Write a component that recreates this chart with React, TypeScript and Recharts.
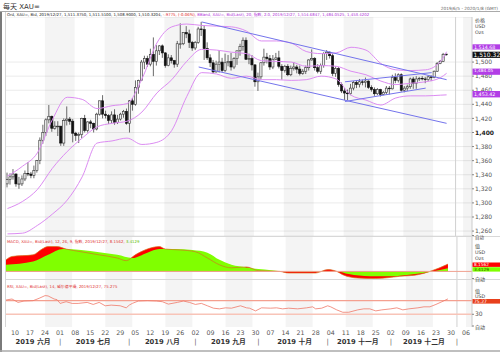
import React from 'react';
import { ComposedChart, Bar, Line, Area, XAxis, YAxis, CartesianGrid, ReferenceArea, ReferenceLine } from 'recharts';

const SANS = "'DejaVu Sans', 'Noto Sans CJK SC', sans-serif";
const CJK = "'Noto Sans CJK SC', 'DejaVu Sans', sans-serif";

// trading days per month (categories)
const junDays = [5, 6, 7, 10, 11, 12, 13, 14, 17, 18, 19, 20, 21, 24, 25, 26, 27, 28];
const julDays = [1, 2, 3, 4, 5, 8, 9, 10, 11, 12, 15, 16, 17, 18, 19, 22, 23, 24, 25, 26, 29, 30, 31];
const augDays = [1, 2, 5, 6, 7, 8, 9, 12, 13, 14, 15, 16, 19, 20, 21, 22, 23, 26, 27, 28, 29, 30];
const sepDays = [2, 3, 4, 5, 6, 9, 10, 11, 12, 13, 16, 17, 18, 19, 20, 23, 24, 25, 26, 27, 30];
const octDays = [1, 2, 3, 4, 7, 8, 9, 10, 11, 14, 15, 16, 17, 18, 21, 22, 23, 24, 25, 28, 29, 30, 31];
const novDays = [1, 4, 5, 6, 7, 8, 11, 12, 13, 14, 15, 18, 19, 20, 21, 22, 25, 26, 27, 28, 29];
const decDays = [2, 3, 4, 5, 6, 9, 10, 11, 12, 13, 16, 17, 18, 19, 20, 23, 24, 25, 26, 27, 30, 31];
const janDays = [1, 2, 3, 6, 7, 8];
const monthBlocks: [string, number[]][] = [
  ['2019-06', junDays], ['2019-07', julDays], ['2019-08', augDays], ['2019-09', sepDays],
  ['2019-10', octDays], ['2019-11', novDays], ['2019-12', decDays], ['2020-01', janDays],
];
const dates: string[] = monthBlocks.flatMap(([m, ds]) => ds.map((d) => `${m}-${String(d).padStart(2, '0')}`));

const opens = [
  1327, 1333, 1337, 1341, 1327, 1327, 1334, 1342, 1341, 1339, 1346, 1360, 1389, 1400, 1418, 1423, 1406, 1409,
  1409, 1385, 1417, 1419, 1416, 1399, 1396, 1397, 1420, 1403, 1415, 1413, 1405, 1426, 1445, 1426, 1424, 1417, 1425, 1414, 1419, 1426, 1430,
  1413, 1445, 1440, 1464, 1474, 1500, 1505, 1497, 1511, 1501, 1516, 1523, 1513, 1495, 1506, 1502, 1497, 1526, 1526, 1542, 1540, 1528,
  1520, 1528, 1547, 1546, 1519, 1506, 1499, 1486, 1497, 1500, 1488, 1499, 1501, 1493, 1505, 1516, 1522, 1531, 1504, 1505, 1496,
  1472, 1479, 1499, 1507, 1505, 1493, 1504, 1506, 1494, 1488, 1494, 1482, 1491, 1493, 1490, 1484, 1487, 1492, 1503, 1505, 1492, 1487, 1495,
  1512, 1514, 1509, 1484, 1491, 1468, 1459, 1456, 1455, 1463, 1471, 1468, 1472, 1471, 1473, 1464, 1461, 1455, 1461, 1454, 1457,
  1463, 1462, 1478, 1474, 1482, 1460, 1463, 1465, 1476, 1470, 1476, 1477, 1476, 1475, 1479, 1478, 1487, 1498, 1501, 1511.375,
];
const highs = [
  1343, 1342, 1348, 1342, 1337, 1339, 1346, 1358, 1344, 1353, 1361, 1393, 1411, 1420, 1439, 1424, 1416, 1416,
  1409, 1420, 1437, 1422, 1419, 1401, 1400, 1421, 1425, 1416, 1418, 1414, 1428, 1445, 1453, 1431, 1426, 1430, 1433, 1425, 1428, 1432, 1434,
  1446, 1449, 1474, 1475, 1503, 1509, 1509, 1519, 1535, 1524, 1524, 1525, 1514, 1511, 1510, 1503, 1530, 1555, 1542, 1551, 1546, 1530,
  1530, 1550, 1557, 1552, 1528, 1511, 1503, 1502, 1517, 1506, 1512, 1510, 1513, 1507, 1516, 1526, 1535, 1535, 1512, 1510, 1497,
  1485, 1500, 1519, 1513, 1510, 1510, 1513, 1516, 1497, 1496, 1497, 1495, 1500, 1496, 1495, 1490, 1495, 1504, 1518, 1507, 1497, 1498, 1514,
  1517, 1515, 1512, 1494, 1493, 1471, 1463, 1461, 1469, 1473, 1474, 1476, 1475, 1478, 1474, 1467, 1464, 1463, 1462, 1459, 1466,
  1466, 1482, 1484, 1484, 1484, 1466, 1468, 1478, 1479, 1480, 1479, 1480, 1479, 1481, 1481, 1488, 1500, 1503, 1513, 1511.51,
];
const lows = [
  1322, 1326, 1333, 1323, 1320, 1324, 1331, 1338, 1335, 1335, 1343, 1355, 1384, 1395, 1413, 1401, 1404, 1395,
  1381, 1381, 1410, 1411, 1386, 1388, 1385, 1392, 1400, 1400, 1406, 1400, 1403, 1424, 1420, 1420, 1412, 1413, 1411, 1412, 1417, 1421, 1411,
  1400, 1431, 1438, 1455, 1473, 1490, 1493, 1494, 1480, 1495, 1510, 1506, 1492, 1494, 1498, 1492, 1493, 1519, 1524, 1534, 1520, 1516,
  1517, 1526, 1537, 1503, 1503, 1493, 1484, 1485, 1485, 1486, 1486, 1494, 1488, 1490, 1496, 1509, 1516, 1503, 1497, 1488, 1465,
  1459, 1475, 1495, 1498, 1489, 1490, 1503, 1491, 1475, 1485, 1480, 1480, 1488, 1484, 1481, 1482, 1483, 1488, 1502, 1488, 1484, 1483, 1492,
  1503, 1505, 1480, 1479, 1465, 1456, 1446, 1446, 1453, 1460, 1463, 1464, 1467, 1464, 1462, 1458, 1452, 1453, 1451, 1453, 1454,
  1454, 1461, 1470, 1471, 1458, 1457, 1459, 1462, 1462, 1462, 1473, 1474, 1470, 1473, 1473, 1477, 1486, 1497, 1500, 1508.9,
];
const closes = [
  1333, 1337, 1341, 1327, 1327, 1334, 1342, 1341, 1339, 1346, 1360, 1389, 1400, 1418, 1423, 1406, 1409, 1409,
  1385, 1417, 1419, 1416, 1399, 1396, 1397, 1420, 1403, 1415, 1413, 1405, 1426, 1445, 1426, 1424, 1417, 1425, 1414, 1419, 1426, 1430, 1413,
  1445, 1440, 1464, 1474, 1500, 1505, 1497, 1511, 1501, 1516, 1523, 1513, 1495, 1506, 1502, 1497, 1526, 1526, 1542, 1540, 1528, 1520,
  1528, 1547, 1546, 1519, 1506, 1499, 1486, 1497, 1500, 1488, 1499, 1501, 1493, 1505, 1516, 1522, 1531, 1504, 1505, 1496, 1472,
  1479, 1499, 1507, 1505, 1493, 1504, 1506, 1494, 1488, 1494, 1482, 1491, 1493, 1490, 1484, 1487, 1492, 1503, 1505, 1492, 1487, 1495, 1512,
  1514, 1509, 1484, 1491, 1468, 1459, 1456, 1455, 1463, 1471, 1468, 1472, 1471, 1473, 1464, 1461, 1455, 1461, 1454, 1457, 1463,
  1462, 1478, 1474, 1482, 1460, 1463, 1465, 1476, 1470, 1476, 1477, 1476, 1475, 1479, 1478, 1487, 1498, 1501, 1511, 1510.3204,
];

// Bollinger bands (read at weekly points)
const bbIdx = [0, 5, 10, 15, 20, 25, 30, 35, 40, 45, 50, 55, 60, 65, 70, 75, 80, 85, 90, 95, 100, 105, 110, 115, 120, 125, 130, 135, 140, 145, 147];
const bbUpper = [1338, 1352, 1371, 1418, 1450, 1447, 1434, 1438, 1441, 1476, 1527, 1550, 1554, 1552, 1551, 1550, 1544, 1530, 1530, 1527, 1515, 1512, 1513, 1521, 1517, 1498, 1489, 1488, 1489, 1501, 1514.68];
const bbMiddle = [1292, 1302, 1319, 1349, 1373, 1392, 1408, 1413, 1416, 1429, 1456, 1475, 1501, 1518, 1517, 1514, 1512, 1502, 1501, 1500, 1494, 1495, 1494, 1487, 1482, 1473, 1468, 1470, 1472, 1478, 1484.05];
const bbLower = [1256, 1257, 1268, 1284, 1304, 1337, 1385, 1388, 1392, 1383, 1386, 1403, 1451, 1485, 1483, 1477, 1480, 1475, 1475, 1474, 1475, 1480, 1476, 1453, 1446, 1439, 1449, 1452, 1452, 1453, 1453.42];

// trend lines
const trendStartIdx = [65, 64, 113, 113];
const trendStartVal = [1557, 1493, 1444, 1472];
const trendEndIdx = [147, 147, 140, 142];
const trendEndVal = [1475, 1413, 1463, 1485];

// MACD (12,26,9)
const macdIdx = [0, 2, 9, 12, 14, 17, 20, 25, 31, 37, 40, 43, 47, 51, 53, 58, 63, 67, 71, 75, 80, 84, 91, 94, 103, 107, 110, 112, 117, 123, 131, 137, 141, 144, 147];
const macdVals = [13, 16.7, 18.5, 25, 27.8, 27.8, 25, 22, 18.5, 15, 12, 18.5, 25, 27.8, 25, 24, 22, 15, 7.4, 4, 5, 0.8, 0, -1.8, -1.8, 2, 0, -3.7, -7.4, -8, -5.5, -3.7, 0, 3.7, 8.16];
const signalIdx = [0, 9, 14, 19, 25, 31, 37, 42, 47, 51, 56, 62, 67, 71, 75, 80, 86, 92, 103, 110, 114, 121, 128, 134, 141, 147];
const signalVals = [7.4, 11, 18.5, 25, 24, 21.5, 18.5, 15, 21, 25, 25, 24, 21, 13, 7.4, 4.5, 2, 0, -0.7, 0, -3, -5.5, -5.5, -3.7, -0.7, 3.41];

// RSI (14)
const rsiIdx = [0, 2, 4, 6, 9, 11, 13, 14, 16, 17, 18, 20, 22, 24, 27, 29, 31, 33, 35, 38, 40, 41, 42, 44, 47, 50, 52, 54, 57, 59, 61, 63, 65, 67, 69, 71, 73, 75, 78, 80, 81, 83, 85, 88, 90, 92, 94, 97, 100, 102, 103, 105, 107, 108, 110, 112, 114, 117, 119, 121, 123, 125, 128, 130, 132, 134, 137, 139, 141, 143, 145, 147];
const rsiVals = [72, 75, 65, 69, 70, 77, 85, 84, 75, 73, 62, 67, 62, 62, 65, 59, 65, 55, 57, 55, 49, 57, 62, 69, 70, 69, 67, 60, 65, 69, 65, 59, 62, 55, 48, 46, 49, 48, 55, 49, 48, 40, 49, 48, 49, 46, 48, 46, 49, 52, 46, 48, 55, 52, 43, 36, 36, 43, 46, 46, 40, 43, 46, 49, 43, 46, 49, 52, 52, 59, 67, 75.3];

const priceTicks = [1260, 1280, 1300, 1320, 1340, 1360, 1380, 1400, 1420, 1440, 1460, 1480, 1500];
const monthLabelIdx = [9, 29, 52, 74, 96, 117, 139];
const monthLabels = ['2019 六月', '2019 七月', '2019 八月', '2019 九月', '2019 十月', '2019 十一月', '2019 十二月'];
const monthSepIdx = [18, 41, 63, 84, 107, 128, 150];
const stripeStarts = [13, 33, 53, 73, 93, 113, 133, 153];
const stripeEnds = [22, 42, 62, 82, 102, 122, 142, 155];

const pick = (idx: number[], vals: number[], i: number) => {
  const j = idx.indexOf(i);
  return j >= 0 ? vals[j] : null;
};

const rows = dates.map((k, i) => {
  const has = i < closes.length;
  return {
    k,
    o: has ? opens[i] : null,
    h: has ? highs[i] : null,
    l: has ? lows[i] : null,
    c: has ? closes[i] : null,
    range: has ? [lows[i], highs[i]] : null,
    bbU: pick(bbIdx, bbUpper, i),
    bbM: pick(bbIdx, bbMiddle, i),
    bbL: pick(bbIdx, bbLower, i),
    macd: pick(macdIdx, macdVals, i),
    signal: pick(signalIdx, signalVals, i),
    rsi: pick(rsiIdx, rsiVals, i),
  };
});

const mondayKeys = dates.filter((d) => new Date(d + 'T12:00:00Z').getUTCDay() === 1);
const monthLabelKeys = monthLabelIdx.map((i) => dates[i]);
const monthSepKeys = monthSepIdx.map((i) => dates[i]);
const monthTickKeys = [...monthLabelKeys, ...monthSepKeys];

const Candle = (props: any) => {
  const { x, y, width, height, payload } = props;
  if (!payload || payload.o == null || x == null || y == null) return null;
  const { o, h, l, c } = payload;
  const top = Math.min(y, y + height);
  const hh = Math.abs(height);
  const r = h > l ? hh / (h - l) : 0;
  const cx = x + width / 2;
  const bTop = top + (h - Math.max(o, c)) * r;
  const bBot = top + (h - Math.min(o, c)) * r;
  const up = c >= o;
  return (
    <g>
      <line x1={cx} x2={cx} y1={top} y2={top + hh} stroke="#444" strokeWidth={0.8} />
      <rect x={cx - 1.1} y={bTop} width={2.2} height={Math.max(bBot - bTop, 0.7)} fill={up ? '#eeeeee' : '#111'} stroke={up ? '#333' : '#111'} strokeWidth={0.6} />
    </g>
  );
};

const DayTick = (props: any) => {
  const { x, y, payload } = props;
  return (
    <text x={x} y={y + 7.5} textAnchor="middle" fontSize={6.3} fill="#555" fontFamily={SANS}>
      {String(payload.value).slice(8)}
    </text>
  );
};

const MonthTick = (props: any) => {
  const { x, y, payload } = props;
  const j = monthLabelKeys.indexOf(payload.value);
  const label = j >= 0 ? monthLabels[j] : '|';
  return (
    <text x={x} y={y + 5.8} textAnchor="middle" fontSize={j >= 0 ? 6.8 : 7} fontWeight={j >= 0 ? 700 : 400} fill={j >= 0 ? '#333' : '#666'} fontFamily={SANS}>
      {label}
    </text>
  );
};

const PriceTick = (props: any) => {
  const { x, y, payload } = props;
  const v = Number(payload.value);
  return (
    <text x={x} y={y + 2.1} fontSize={6} fill={v === 1400 ? '#222' : '#555'} fontWeight={v === 1400 ? 700 : 400} fontFamily={SANS}>
      {v.toLocaleString('en-US')}
    </text>
  );
};

const stripes = (p: string) =>
  stripeStarts.map((s, j) => (
    <ReferenceArea key={`${p}${j}`} x1={dates[s]} x2={dates[stripeEnds[j]]} fill="#000" fillOpacity={0.045} stroke="none" strokeOpacity={0} ifOverflow="visible" />
  ));

const MARGIN = { top: 0, right: 0, bottom: 0, left: 6 };
const BB = '#dc8cf2';
const TREND = '#7474ec';

export default function App() {
  return (
    <div style={{ position: 'absolute', left: 0, top: 0, width: 500, height: 352, background: '#fff', overflow: 'hidden', fontFamily: SANS }}>
      <div style={{ position: 'absolute', left: 0, top: 17 }}>
        <ComposedChart width={500} height={219} data={rows} margin={MARGIN}>
          <CartesianGrid vertical={false} stroke="#ebebeb" />
          {stripes('m')}
          <XAxis dataKey="k" hide />
          <YAxis orientation="right" width={28} domain={[1253, 1564]} ticks={priceTicks} interval={0} allowDataOverflow
            tick={<PriceTick />} tickSize={2} tickMargin={1}
            axisLine={{ stroke: '#ccc' }} tickLine={{ stroke: '#888' }} />
          <ReferenceLine x={dates[150]} stroke="#d0d0d0" />
          <Line dataKey="bbU" stroke={BB} strokeWidth={1} dot={false} connectNulls type="monotone" isAnimationActive={false} />
          <Line dataKey="bbM" stroke={BB} strokeWidth={1} dot={false} connectNulls type="monotone" isAnimationActive={false} />
          <Line dataKey="bbL" stroke={BB} strokeWidth={1} dot={false} connectNulls type="monotone" isAnimationActive={false} />
          {trendStartIdx.map((s, j) => (
            <ReferenceLine key={`t${j}`} ifOverflow="visible" stroke={TREND} strokeWidth={1}
              segment={[{ x: dates[s], y: trendStartVal[j] }, { x: dates[trendEndIdx[j]], y: trendEndVal[j] }]} />
          ))}
          <Bar dataKey="range" shape={Candle} isAnimationActive={false} barSize={2} />
        </ComposedChart>
      </div>
      <div style={{ position: 'absolute', left: 0, top: 237 }}>
        <ComposedChart width={500} height={42} data={rows} margin={MARGIN}>
          {stripes('d')}
          <XAxis dataKey="k" hide />
          <YAxis orientation="right" width={28} domain={[-8.5, 38.5]} tick={false} axisLine={{ stroke: '#ccc' }} tickLine={false} allowDataOverflow />
          <ReferenceLine x={dates[150]} stroke="#d0d0d0" />
          <Area dataKey="macd" fill="#ff0000" fillOpacity={1} stroke="none" connectNulls type="monotone" baseValue={0} isAnimationActive={false} />
          <Area dataKey="signal" fill="#80ff00" fillOpacity={1} stroke="none" connectNulls type="monotone" baseValue={0} isAnimationActive={false} />
          <Line dataKey="macd" stroke="#d2741e" strokeWidth={0.7} dot={false} connectNulls type="monotone" isAnimationActive={false} />
          <ReferenceLine y={0} stroke="#f0a090" strokeWidth={1} />
        </ComposedChart>
      </div>
      <div style={{ position: 'absolute', left: 0, top: 280 }}>
        <ComposedChart width={500} height={72} data={rows} margin={MARGIN}>
          {stripes('r')}
          <XAxis dataKey="k" ticks={mondayKeys} interval={0} axisLine={false} tickLine={false} tickSize={0} tickMargin={0} height={11} tick={<DayTick />} />
          <XAxis dataKey="k" xAxisId="m" ticks={monthTickKeys} interval={0} axisLine={false} tickLine={false} tickSize={0} tickMargin={0} height={14} tick={<MonthTick />} />
          <YAxis orientation="right" width={28} domain={[-7.4, 130.9]} ticks={[30]} interval={0} allowDataOverflow
            tick={{ fontSize: 6, fill: '#555', fontFamily: SANS }} tickSize={2} tickMargin={1}
            axisLine={{ stroke: '#ccc' }} tickLine={{ stroke: '#888' }} />
          <ReferenceLine x={dates[150]} stroke="#d0d0d0" />
          <ReferenceLine y={70} stroke="#f4a090" strokeWidth={1.2} />
          <ReferenceLine y={30} stroke="#f8c4b8" strokeWidth={1.6} />
          <Line dataKey="rsi" stroke="#f07868" strokeWidth={0.8} dot={false} connectNulls type="linear" isAnimationActive={false} />
        </ComposedChart>
      </div>

      <svg style={{ position: 'absolute', left: 0, top: 0, pointerEvents: 'none' }} width={500} height={352}>
        {/* frame */}
        <line x1={0} x2={500} y1={11.5} y2={11.5} stroke="#aaa" strokeWidth={1} />
        <rect x={0} y={12} width={2} height={340} fill="#7a7a7a" />
        <line x1={5.5} x2={5.5} y1={12} y2={327} stroke="#d6d6d6" strokeWidth={1} />
        <line x1={5} x2={500} y1={236.5} y2={236.5} stroke="#d8d8d8" strokeWidth={1} />
        <line x1={5} x2={500} y1={279.5} y2={279.5} stroke="#d8d8d8" strokeWidth={1} />
        <line x1={0} x2={500} y1={351} y2={351} stroke="#aaa" strokeWidth={1.5} />

        {/* header */}
        <text x={3} y={8.8} fontSize={7} fill="#333" fontFamily={SANS}>每天 XAU=</text>
        <text x={498} y={9.5} textAnchor="end" fontSize={4.3} fill="#666" fontFamily={SANS}>2019/6/5 - 2020/1/8 (GMT)</text>
        <text x={7} y={16} fontSize={3.9} fontFamily={SANS}>
          <tspan fill="#222">Ord, XAU=, Bid, 2019/12/27, 1,511.3750, 1,511.5100, 1,508.9000, 1,510.3204, </tspan>
          <tspan fill="#e02020">-.9775, (-0.06%), </tspan>
          <tspan fill="#b030d8">BBand, XAU=, Bid(Last), 20, 指数, 2.0, 2019/12/27, 1,514.6847, 1,484.0525, 1,453.4202</tspan>
        </text>

        {/* main right labels */}
        <text x={475} y={22} fontSize={5} fill="#444" fontFamily={CJK}>价格</text>
        <text x={475} y={28} fontSize={4.8} fill="#444" fontFamily={SANS}>USD</text>
        <text x={475} y={34} fontSize={4.8} fill="#444" fontFamily={SANS}>Ozs</text>
        <rect x={472.5} y={44.3} width={27.5} height={5.2} fill="#b23ee6" />
        <text x={474} y={48.6} fontSize={4.8} fill="#fff" fontFamily={SANS}>1,514.68</text>
        <rect x={472.5} y={51.7} width={27.5} height={6.2} fill="#111" />
        <text x={473.5} y={56.8} fontSize={6} fill="#fff" fontFamily={SANS}>1,510.32</text>
        <rect x={472.5} y={68.6} width={27.5} height={6.2} fill="#b23ee6" />
        <text x={474} y={72.4} fontSize={4.3} fill="#fff" fontFamily={SANS}>1,484.05</text>
        <rect x={472.5} y={91} width={27.5} height={6.4} fill="#b23ee6" />
        <text x={474} y={95.9} fontSize={4.8} fill="#fff" fontFamily={SANS}>1,453.42</text>
        <line x1={472} x2={474} y1={235.5} y2={235.5} stroke="#888" />
        <text x={475} y={238.8} fontSize={4.4} fill="#444" fontFamily={CJK}>自动</text>

        {/* MACD */}
        <text x={7} y={242.5} fontSize={3.9} fontFamily={SANS}>
          <tspan fill="#e03030">MACD, XAU=, Bid(Last), 12, 26, 9, 指数, 2019/12/27, 8.1562, </tspan>
          <tspan fill="#5cc000">3.4129</tspan>
        </text>
        <text x={475} y={248} fontSize={5} fill="#444" fontFamily={CJK}>值</text>
        <text x={475} y={254} fontSize={4.8} fill="#444" fontFamily={SANS}>USD</text>
        <text x={475} y={260} fontSize={4.8} fill="#444" fontFamily={SANS}>Ozs</text>
        <rect x={472.5} y={262.5} width={27.5} height={4.4} fill="#ff0000" />
        <text x={474} y={266.3} fontSize={4.3} fill="#fff" fontFamily={SANS}>8.1562</text>
        <rect x={472.5} y={267.2} width={27.5} height={4.4} fill="#80ff00" />
        <text x={474} y={271} fontSize={4.3} fill="#2a5a00" fontFamily={SANS}>3.4129</text>
        <line x1={472} x2={474} y1={278.5} y2={278.5} stroke="#888" />
        <text x={475} y={281} fontSize={5} fill="#444" fontFamily={CJK}>自动</text>

        {/* RSI */}
        <text x={7} y={288} fontSize={3.9} fill="#e03030" fontFamily={SANS}>RSI, XAU=, Bid(Last), 14, 威尔德平滑, 2019/12/27, 75.275</text>
        <text x={475} y={292.5} fontSize={5} fill="#444" fontFamily={CJK}>值</text>
        <text x={475} y={298} fontSize={4.8} fill="#444" fontFamily={SANS}>USD</text>
        <rect x={472.5} y={299} width={27.5} height={4.6} fill="#e8401c" />
        <text x={474} y={302.9} fontSize={4.5} fill="#fff" fontFamily={SANS}>75.27</text>
        <line x1={472} x2={474} y1={326} y2={326} stroke="#888" />
        <text x={475} y={328.5} fontSize={5} fill="#444" fontFamily={CJK}>自动</text>
      </svg>
    </div>
  );
}
